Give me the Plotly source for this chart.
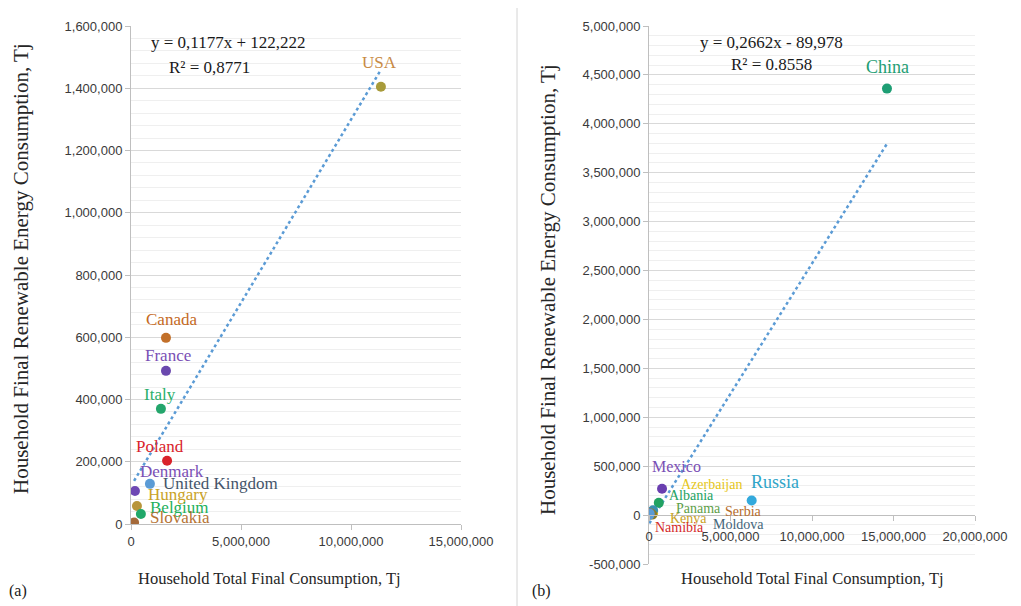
import plotly.graph_objects as go

W, H = 1021, 606
OFF = 8  # page body margin offset of the rendered figure

# ---------------- Panel (a) data ----------------
a_countries = ["USA", "Canada", "France", "Italy", "Poland", "Denmark",
               "United Kingdom", "Hungary", "Belgium", "Slovakia"]
a_total = [11360000, 1590000, 1590000, 1360000, 1640000, 180000,
           860000, 270000, 450000, 140000]
a_renew = [1405000, 598000, 492000, 370000, 203000, 106000,
           129000, 58000, 32000, 5000]
a_marker_colors = ["#A89B3A", "#C2702A", "#6A48AE", "#24A66C", "#D9232B", "#6E48B4",
                   "#5B9BD5", "#B8953A", "#20A86A", "#A4693A"]
a_label_colors = ["#C88A45", "#C46A1E", "#7A4FB5", "#2BAF6B", "#D9232B", "#7A4FB5",
                  "#44546A", "#C9A227", "#22B05A", "#B57335"]
a_label_shift = [(-1, 24), (6, 18), (2, 15), (-1, 14), (-7, 14), (37, 20),
                 (71, 0), (41, 11), (39, 7), (46, 5)]
a_slope, a_intercept = 0.1177, 122222
a_eq = "y = 0,1177x + 122,222"
a_r2 = "R² = 0,8771"
a_xticks = [0, 5000000, 10000000, 15000000]
a_yticks = [0, 200000, 400000, 600000, 800000, 1000000, 1200000, 1400000, 1600000]

# ---------------- Panel (b) data ----------------
b_countries = ["China", "Russia", "Mexico", "Azerbaijan", "Albania", "Panama",
               "Serbia", "Kenya", "Moldova", "Namibia"]
b_total = [14600000, 6300000, 800000, 250000, 600000, 250000,
           80000, 200000, 40000, 20000]
b_renew = [4360000, 150000, 270000, 15000, 125000, 50000,
           20000, 5000, 15000, 2000]
b_marker_colors = ["#1E9E74", "#33A9DC", "#6A3FB0", "#E3C21C", "#22A262", "#3A8FB0",
                   "#B8692E", "#8A7A2A", "#5B9BD5", "#5B9BD5"]
b_label_colors = ["#1E9E74", "#2FA5C8", "#7A4FB5", "#E6C619", "#22A262", "#5D9E47",
                  "#B56B2C", "#C9A227", "#44657A", "#D42A2A"]
b_label_size = [18, 18, 16, 14, 14, 14, 14, 14, 14, 14]
b_label_shift = [(1, 22), (23, 18), (14, 22), (58, 29), (33, 7), (45, 2),
                 (93, 2), (36, -4), (89, -11), (30, -13)]
b_slope, b_intercept = 0.2662, -89978
b_eq = "y = 0,2662x - 89,978"
b_r2 = "R² = 0.8558"
b_xticks = [0, 5000000, 10000000, 15000000, 20000000]
b_yticks = [-500000, 0, 500000, 1000000, 1500000, 2000000, 2500000,
            3000000, 3500000, 4000000, 4500000, 5000000]

x_title = "Household Total Final Consumption, Tj"
y_title = "Household Final Renewable Energy Consumption, Tj"

SERIF = "Liberation Serif"
SANS = "Liberation Sans"
GRID = "#D9D9D9"
MINOR = "#EFEFEF"
AXIS = "#BFBFBF"
TICKC = "#3A3A3A"


def fx(px):
    return (px - OFF) / W


def fy(py):
    return 1 - (py - OFF) / H


# plot area domains (paper)
a_xd = [fx(131), fx(461)]
a_yd = [fy(524), fy(26)]
b_xd = [fx(649), fx(975)]
b_yd = [fy(564), fy(26)]
b_yr = [b_yticks[0], b_yticks[-1]]
b_xpos = b_yd[0] + (0 - b_yr[0]) / (b_yr[1] - b_yr[0]) * (b_yd[1] - b_yd[0])

fig = go.Figure()

# trendlines
ax = [min(a_total), max(a_total)]
fig.add_trace(go.Scatter(x=ax, y=[a_slope * v + a_intercept for v in ax], mode="lines",
                         line=dict(color="#5B9BD5", width=2.5, dash="dot"),
                         xaxis="x", yaxis="y", hoverinfo="skip"))
bx = [min(b_total), max(b_total)]
fig.add_trace(go.Scatter(x=bx, y=[b_slope * v + b_intercept for v in bx], mode="lines",
                         line=dict(color="#5B9BD5", width=2.5, dash="dot"),
                         xaxis="x2", yaxis="y2", hoverinfo="skip"))

# scatter points
fig.add_trace(go.Scatter(x=a_total, y=a_renew, mode="markers", text=a_countries,
                         marker=dict(size=10, color=a_marker_colors),
                         xaxis="x", yaxis="y"))
fig.add_trace(go.Scatter(x=b_total, y=b_renew, mode="markers", text=b_countries,
                         marker=dict(size=10, color=b_marker_colors),
                         xaxis="x2", yaxis="y2"))

annotations = []
for name, xv, yv, col, (dx, dy) in zip(a_countries, a_total, a_renew, a_label_colors, a_label_shift):
    annotations.append(dict(x=xv, y=yv, xref="x", yref="y", text=name, showarrow=False,
                            xanchor="center", yanchor="middle",
                            xshift=dx, yshift=dy, font=dict(family=SERIF, size=17, color=col)))
for name, xv, yv, col, sz, (dx, dy) in zip(b_countries, b_total, b_renew, b_label_colors,
                                           b_label_size, b_label_shift):
    annotations.append(dict(x=xv, y=yv, xref="x2", yref="y2", text=name, showarrow=False,
                            xanchor="center", yanchor="middle",
                            xshift=dx, yshift=dy, font=dict(family=SERIF, size=sz, color=col)))


def pann(px, py, text, size, angle=0, color="#1A1A1A"):
    return dict(x=fx(px), y=fy(py), xref="paper", yref="paper", text=text,
                showarrow=False, xanchor="center", yanchor="middle", textangle=angle,
                font=dict(family=SERIF, size=size, color=color))


annotations += [
    pann(228, 43, a_eq, 17),
    pann(209, 67, a_r2, 17),
    pann(771, 42, b_eq, 17),
    pann(771, 64, b_r2, 17),
    pann(269, 578, x_title, 16.5, color="#262626"),
    pann(812, 578, x_title, 16.5, color="#262626"),
    pann(21, 269, y_title, 21, angle=-90, color="#262626"),
    pann(548, 290, y_title, 21, angle=-90, color="#262626"),
    pann(18, 591, "(a)", 16),
    pann(541, 591, "(b)", 16),
]

tickfont = dict(family=SANS, size=13, color=TICKC)

fig.update_layout(
    width=W, height=H, autosize=False,
    margin=dict(l=0, r=0, t=0, b=0, pad=0),
    paper_bgcolor="white", plot_bgcolor="white",
    showlegend=False,
    annotations=annotations,
    shapes=[dict(type="line", xref="paper", yref="paper", x0=fx(517), x1=fx(517), y0=0, y1=1,
                 line=dict(color="#D4D4D4", width=1))],
    xaxis=dict(domain=a_xd, anchor="y", range=[a_xticks[0], a_xticks[-1]], automargin=False,
               tickvals=a_xticks, ticktext=[f"{v:,}" for v in a_xticks],
               showgrid=False, zeroline=False, showline=True, linecolor=AXIS, linewidth=1,
               ticks="outside", ticklen=5, tickcolor=AXIS, tickfont=tickfont),
    yaxis=dict(domain=a_yd, anchor="x", range=[a_yticks[0], a_yticks[-1]], automargin=False,
               tickvals=a_yticks, ticktext=[f"{v:,}" for v in a_yticks],
               showgrid=True, gridcolor=GRID, zeroline=False, showline=True, linecolor=AXIS,
               ticks="outside", ticklen=5, tickcolor=AXIS, tickfont=tickfont,
               minor=dict(dtick=40000, showgrid=True, gridcolor=MINOR, ticks="")),
    xaxis2=dict(domain=b_xd, anchor="free", position=b_xpos, range=[b_xticks[0], b_xticks[-1]],
                automargin=False, ticklabelstandoff=4,
                tickvals=b_xticks, ticktext=[f"{v:,}" for v in b_xticks],
                showgrid=False, zeroline=False, showline=True, linecolor=AXIS, linewidth=1,
                ticks="outside", ticklen=5, tickcolor=AXIS, tickfont=tickfont),
    yaxis2=dict(domain=b_yd, anchor="x2", range=b_yr, automargin=False,
                tickvals=b_yticks, ticktext=[f"{v:,}" for v in b_yticks],
                showgrid=True, gridcolor=GRID, zeroline=False, showline=True, linecolor=AXIS,
                ticks="outside", ticklen=5, tickcolor=AXIS, tickfont=tickfont,
                minor=dict(dtick=100000, showgrid=True, gridcolor=MINOR, ticks="")),
)

fig.write_html("out.html")
